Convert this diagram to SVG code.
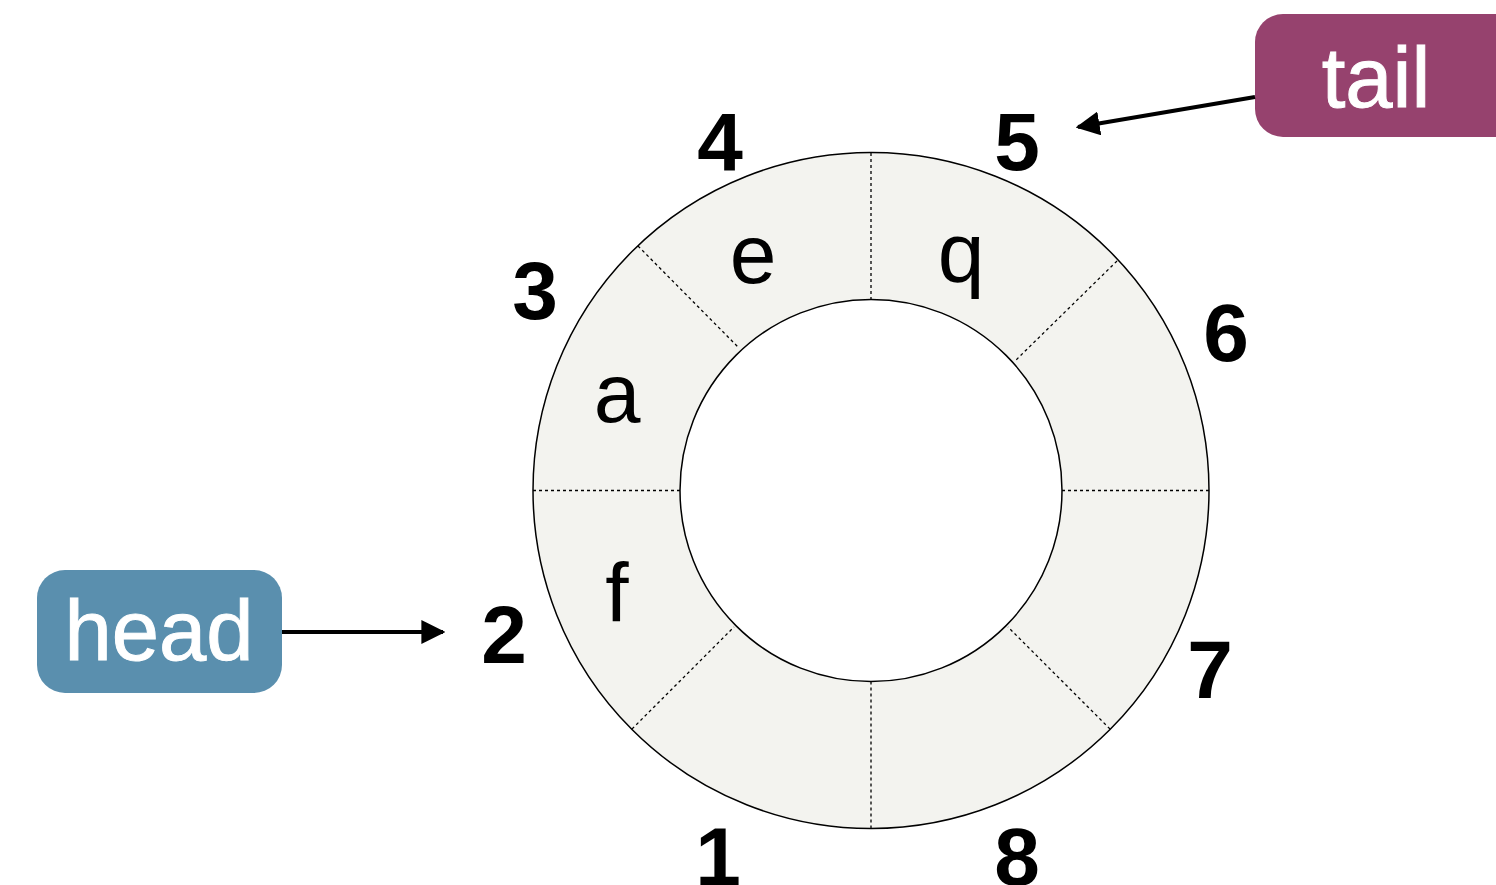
<svg xmlns="http://www.w3.org/2000/svg" width="1496" height="885" viewBox="0 0 1496 885">
<defs>
<style>
.num{font-family:"Liberation Sans",Arial,sans-serif;font-weight:bold;font-size:82px;fill:#000;text-anchor:middle}
.let{font-family:"Liberation Sans",Arial,sans-serif;font-size:84px;fill:#000;text-anchor:middle}
.lbl{font-family:"Liberation Sans",Arial,sans-serif;font-size:85px;fill:#fff;text-anchor:middle;stroke:#fff;stroke-width:1}
.div{stroke:#000;stroke-width:1.3;stroke-dasharray:3 3;fill:none}
.conn{stroke:#000;stroke-width:4;fill:none}
</style>
<marker id="arr" viewBox="0 0 10 10" refX="9" refY="5" markerWidth="6" markerHeight="6" markerUnits="strokeWidth" orient="auto">
<path d="M0,0 L10,5 L0,10 Z" fill="#000"/>
</marker>
</defs>
<rect width="1496" height="885" fill="#fff"/>
<g id="ring">
<path d="M533,490.5 a338,338 0 1,0 676,0 a338,338 0 1,0 -676,0 Z M680,490.5 a191,191 0 1,0 382,0 a191,191 0 1,0 -382,0 Z" fill="#f3f3ef" fill-rule="evenodd" stroke="#000" stroke-width="1.5"/>
<line class="div" x1="871" y1="153" x2="871" y2="299.5"/>
<line class="div" x1="871" y1="681.5" x2="871" y2="828"/>
<line class="div" x1="533" y1="490.5" x2="680" y2="490.5"/>
<line class="div" x1="1062" y1="490.5" x2="1209" y2="490.5"/>
<line class="div" x1="638" y1="246" x2="738" y2="347"/>
<line class="div" x1="1117" y1="261" x2="1015" y2="361"/>
<line class="div" x1="632" y1="729" x2="734" y2="627"/>
<line class="div" x1="1110" y1="729" x2="1008" y2="627"/>
</g>
<g id="slot-labels">
<text class="num" x="720" y="170">4</text>
<text class="num" x="1017" y="170">5</text>
<text class="num" x="535" y="319">3</text>
<text class="num" x="1226" y="361">6</text>
<text class="num" x="504" y="663">2</text>
<text class="num" x="1210" y="698">7</text>
<text class="num" x="718" y="885">1</text>
<text class="num" x="1017" y="885">8</text>
</g>
<g id="slot-values">
<text class="let" x="753" y="283">e</text>
<text class="let" x="961" y="282">q</text>
<text class="let" x="617" y="422">a</text>
<text class="let" x="617" y="622">f</text>
</g>
<g id="head">
<rect x="37" y="570" width="245" height="123" rx="28" fill="#5a8fae"/>
<text class="lbl" x="159" y="660">head</text>
</g>
<g id="tail">
<rect x="1255" y="14" width="270" height="123" rx="28" fill="#96426e"/>
<text class="lbl" x="1376" y="107">tail</text>
</g>
<g id="connectors">
<line class="conn" x1="282" y1="632" x2="443" y2="632" marker-end="url(#arr)"/>
<line class="conn" x1="1255" y1="97" x2="1078" y2="127" marker-end="url(#arr)"/>
</g>
</svg>
